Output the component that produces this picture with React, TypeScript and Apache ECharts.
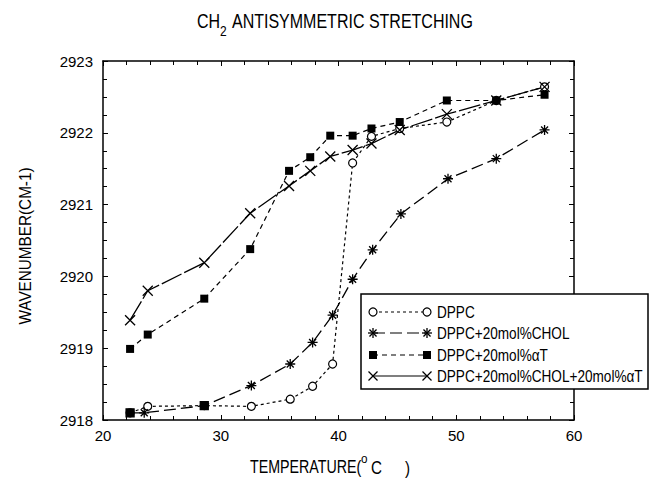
import React, { useEffect, useRef } from 'react';
import * as echarts from 'echarts';

const xTicks = [20, 30, 40, 50, 60];
const yTicks = [2918, 2919, 2920, 2921, 2922, 2923];

const dppcT = [22.3, 23.8, 28.6, 32.6, 35.9, 37.8, 39.5, 41.2, 42.8, 45.2, 49.2, 53.4, 57.5];
const dppcV = [2918.1, 2918.19, 2918.2, 2918.19, 2918.29, 2918.47, 2918.78, 2921.58, 2921.95, 2922.06, 2922.15, 2922.45, 2922.64];

const cholT = [22.3, 23.5, 28.6, 32.6, 35.9, 37.8, 39.5, 41.2, 42.9, 45.3, 49.3, 53.4, 57.5];
const cholV = [2918.1, 2918.1, 2918.2, 2918.48, 2918.78, 2919.08, 2919.46, 2919.96, 2920.37, 2920.87, 2921.36, 2921.64, 2922.04];

const atT = [22.3, 23.8, 28.6, 32.5, 35.8, 37.6, 39.3, 41.2, 42.8, 45.2, 49.2, 53.4, 57.5];
const atV = [2918.99, 2919.19, 2919.69, 2920.38, 2921.47, 2921.66, 2921.96, 2921.96, 2922.06, 2922.15, 2922.45, 2922.45, 2922.53];

const bothT = [22.3, 23.8, 28.6, 32.5, 35.8, 37.6, 39.3, 41.2, 42.8, 45.2, 49.2, 53.4, 57.5];
const bothV = [2919.39, 2919.8, 2920.19, 2920.88, 2921.26, 2921.47, 2921.67, 2921.76, 2921.85, 2922.04, 2922.26, 2922.45, 2922.64];

const names = ['DPPC', 'DPPC+20mol%CHOL', 'DPPC+20mol%\u03b1T', 'DPPC+20mol%CHOL+20mol%\u03b1T'];

const FONT = "'Liberation Sans', Arial, sans-serif";
const ASTER = 'path://M5,0 L5,10 M0,5 L10,5 M1.5,1.5 L8.5,8.5 M1.5,8.5 L8.5,1.5';
const CROSS = 'path://M0,0 L10,10 M0,10 L10,0';

const pairs = (t: number[], v: number[]) => t.map((x, i) => [x, v[i]]);

function astGraphic(cx: number, cy: number, r: number) {
  const d = r * 0.7071;
  return [
    { type: 'line', shape: { x1: cx, y1: cy - r, x2: cx, y2: cy + r } },
    { type: 'line', shape: { x1: cx - r, y1: cy, x2: cx + r, y2: cy } },
    { type: 'line', shape: { x1: cx - d, y1: cy - d, x2: cx + d, y2: cy + d } },
    { type: 'line', shape: { x1: cx - d, y1: cy + d, x2: cx + d, y2: cy - d } },
  ].map((e) => ({ ...e, z: 101, style: { stroke: '#000', lineWidth: 1.3 } }));
}
function crossGraphic(cx: number, cy: number, r: number) {
  return [
    { type: 'line', shape: { x1: cx - r, y1: cy - r, x2: cx + r, y2: cy + r } },
    { type: 'line', shape: { x1: cx - r, y1: cy + r, x2: cx + r, y2: cy - r } },
  ].map((e) => ({ ...e, z: 101, style: { stroke: '#000', lineWidth: 1.3 } }));
}

function txt(text: string, x: number, y: number, size: number, sx: number, extra: any = {}) {
  return {
    type: 'text', z: 101, x, y, scaleX: sx, ...extra,
    style: { text, fill: '#000', font: `${size}px ${FONT}`, verticalAlign: 'middle', align: extra.align || 'left' },
  };
}

export default function App() {
  const ref = useRef<HTMLDivElement>(null);
  useEffect(() => {
    if (!ref.current) return;
    const chart = echarts.init(ref.current, null, { renderer: 'svg' });
    const axisCommon = {
      axisLine: { show: true, onZero: false, lineStyle: { color: '#000', width: 1.5 } },
      axisTick: { show: true, inside: true, length: 5, lineStyle: { color: '#000', width: 1 } },
      minorTick: { show: true, length: 4, lineStyle: { color: '#000', width: 1 } },
      splitLine: { show: false },
    };
    const lx1 = 373, lx2 = 427, rows = [312, 333, 355, 376];
    const legendGraphics: any[] = [
      { type: 'rect', z: 99, shape: { x: 361, y: 294, width: 287, height: 95 }, style: { fill: '#fff', stroke: '#000', lineWidth: 1.5 } },
      { type: 'line', z: 100, shape: { x1: lx1, y1: rows[0], x2: lx2, y2: rows[0] }, style: { stroke: '#000', lineWidth: 1.2, lineDash: [3, 3] } },
      { type: 'circle', z: 101, shape: { cx: lx1, cy: rows[0], r: 4 }, style: { fill: '#fff', stroke: '#000', lineWidth: 1.2 } },
      { type: 'circle', z: 101, shape: { cx: lx2, cy: rows[0], r: 4 }, style: { fill: '#fff', stroke: '#000', lineWidth: 1.2 } },
      { type: 'line', z: 100, shape: { x1: lx1, y1: rows[1], x2: lx2, y2: rows[1] }, style: { stroke: '#000', lineWidth: 1.2, lineDash: [12, 5] } },
      ...astGraphic(lx1, rows[1], 5),
      ...astGraphic(lx2, rows[1], 5),
      { type: 'line', z: 100, shape: { x1: lx1, y1: rows[2], x2: lx2, y2: rows[2] }, style: { stroke: '#000', lineWidth: 1.2, lineDash: [5, 4] } },
      { type: 'rect', z: 101, shape: { x: lx1 - 4, y: rows[2] - 4, width: 8, height: 8 }, style: { fill: '#000' } },
      { type: 'rect', z: 101, shape: { x: lx2 - 4, y: rows[2] - 4, width: 8, height: 8 }, style: { fill: '#000' } },
      { type: 'line', z: 100, shape: { x1: lx1, y1: rows[3], x2: lx2, y2: rows[3] }, style: { stroke: '#000', lineWidth: 1.2 } },
      ...crossGraphic(lx1, rows[3], 4.5),
      ...crossGraphic(lx2, rows[3], 4.5),
      ...names.map((n, i) => txt(n, 437, rows[i], 17, 0.8)),
    ];
    const titleGraphics: any[] = [
      txt('CH', 197, 21, 20, 0.8),
      txt('2', 220, 31, 15, 0.8),
      txt('ANTISYMMETRIC STRETCHING', 232, 21, 20, 0.8),
      txt('TEMPERATURE(', 250, 467, 19, 0.75),
      txt('o', 361, 459, 13, 0.9),
      txt('C', 371, 467, 19, 0.8),
      txt(')', 405, 467, 19, 0.8),
      txt('WAVENUMBER(CM-1)', 25, 246, 17, 0.9, { rotation: Math.PI / 2, align: 'center' }),
    ];
    const cholData = pairs(cholT, cholV).map((p, i) =>
      i === 0 || i === 2 ? { value: p, symbol: 'rect', symbolSize: 8, itemStyle: { color: '#000' } } : { value: p }
    );
    chart.setOption({
      animation: false,
      backgroundColor: '#fff',
      grid: { left: 103, right: 80, top: 61, bottom: 65 },
      xAxis: [
        {
          type: 'value', min: 20, max: 60, interval: 10, position: 'bottom', ...axisCommon,
          minorTick: { ...axisCommon.minorTick, splitNumber: 5 },
          axisLabel: { color: '#000', fontSize: 15, fontFamily: FONT, margin: 8, formatter: (v: number) => (xTicks.includes(v) ? String(v) : '') },
        },
        {
          type: 'value', min: 20, max: 60, interval: 10, position: 'top', ...axisCommon,
          minorTick: { ...axisCommon.minorTick, splitNumber: 5 },
          axisLabel: { show: false },
        },
      ],
      yAxis: [
        {
          type: 'value', min: 2918, max: 2923, interval: 1, position: 'left', ...axisCommon,
          minorTick: { ...axisCommon.minorTick, splitNumber: 4 },
          axisLabel: { color: '#000', fontSize: 15, fontFamily: FONT, margin: 10, formatter: (v: number) => (yTicks.includes(v) ? String(v) : '') },
        },
        {
          type: 'value', min: 2918, max: 2923, interval: 1, position: 'right', ...axisCommon,
          minorTick: { ...axisCommon.minorTick, splitNumber: 4 },
          axisLabel: { show: false },
        },
      ],
      series: [
        {
          name: names[0], type: 'line', data: pairs(dppcT, dppcV), symbol: 'circle', symbolSize: 8, z: 3,
          itemStyle: { color: '#fff', borderColor: '#000', borderWidth: 1.2 },
          lineStyle: { color: '#000', width: 1.2, type: [3, 3] },
        },
        {
          name: names[1], type: 'line', data: cholData, symbol: ASTER, symbolSize: 10, z: 4,
          itemStyle: { color: '#000', borderColor: '#000', borderWidth: 1.3 },
          lineStyle: { color: '#000', width: 1.3, type: [12, 5] },
        },
        {
          name: names[2], type: 'line', data: pairs(atT, atV), symbol: 'rect', symbolSize: 8, z: 3,
          itemStyle: { color: '#000' },
          lineStyle: { color: '#000', width: 1.2, type: [5, 4] },
        },
        {
          name: names[3], type: 'line', data: pairs(bothT, bothV), symbol: CROSS, symbolSize: 10, z: 3,
          itemStyle: { color: '#000', borderColor: '#000', borderWidth: 1.3 },
          lineStyle: { color: '#000', width: 1.3, type: [22, 3] },
        },
      ],
      graphic: [...legendGraphics, ...titleGraphics],
    });
    return () => chart.dispose();
  }, []);
  return <div ref={ref} style={{ width: 654, height: 485, position: 'absolute', left: 0, top: 0 }} />;
}
